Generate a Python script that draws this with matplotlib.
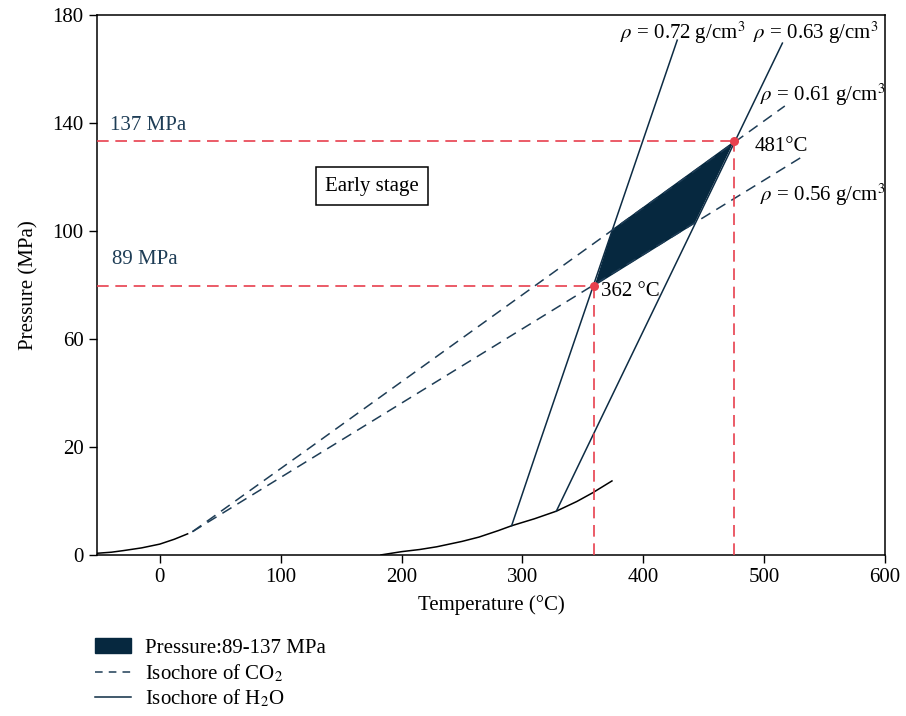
import numpy as np
import matplotlib.pyplot as plt
from matplotlib.patches import Patch
from matplotlib.lines import Line2D

plt.rcParams['font.family'] = 'serif'
plt.rcParams['font.serif'] = ['Liberation Serif', 'DejaVu Serif']
plt.rcParams['mathtext.fontset'] = 'stix'

# liquid-vapour curves
co2_T = [-52, -40, -30, -15, 0, 12, 23]
co2_P = [0.3, 0.5, 0.8, 1.3, 2.0, 2.9, 3.9]
h2o_T = [183, 200, 215, 229, 250, 264, 280, 291, 310, 328, 345, 358, 374]
h2o_P = [0.0, 0.6, 1.0, 1.5, 2.5, 3.3, 4.5, 5.4, 6.7, 8.1, 9.9, 11.5, 13.7]

# isochores (T, P) - middle point is where they cross 20 MPa
h2o_072_T = [291, 313, 428]
h2o_072_P = [5.4, 20, 170.7]
h2o_063_T = [328, 353.6, 515]
h2o_063_P = [8.1, 20, 169.6]
co2_061_T = [27, 125, 517]
co2_061_P = [4.3, 20, 146.3]
co2_056_T = [27, 141, 531]
co2_056_P = [4.3, 20, 127.4]

# trapped pressure region
fill_T = [359.5, 374.4, 475, 442.1]
fill_P = [79.6, 100.7, 133.3, 102.6]
pts_T = [359.5, 475]
pts_P = [79.6, 133.3]

yticks = [0, 20, 60, 100, 140, 180]

navy = '#0d2c44'
dnavy = '#1e3d56'
fillc = '#06283f'
red = '#e8404e'


def fwd(y):
    y = np.asarray(y, dtype=float)
    return np.where(y < 20, y / 20, 1 + (y - 20) / 40)


def inv(u):
    u = np.asarray(u, dtype=float)
    return np.where(u < 1, u * 20, 20 + (u - 1) * 40)


fig = plt.figure(figsize=(9.06, 7.16), dpi=100)
ax = fig.add_axes([0.107, 0.225, 0.870, 0.754])
ax.set_yscale('function', functions=(fwd, inv))
ax.set_xlim(-52, 600)
ax.set_ylim(0, 180)

ax.fill(fill_T, fill_P, color=fillc, lw=0, zorder=2)

ax.plot(co2_T, co2_P, color='black', lw=1.1)
ax.plot(h2o_T, h2o_P, color='black', lw=1.1)
ax.plot(h2o_072_T, h2o_072_P, color=navy, lw=1.1)
ax.plot(h2o_063_T, h2o_063_P, color=navy, lw=1.1)
ax.plot(co2_061_T, co2_061_P, color=dnavy, lw=1.1, dashes=(7, 4.5))
ax.plot(co2_056_T, co2_056_P, color=dnavy, lw=1.1, dashes=(7, 4.5))

for t, p in zip(pts_T, pts_P):
    ax.plot([-52, t], [p, p], color=red, lw=1.2, dashes=(7, 4), zorder=3)
    ax.plot([t, t], [0, p], color=red, lw=1.2, dashes=(7, 4), zorder=3)
ax.scatter(pts_T, pts_P, s=30, color=red, zorder=4)

lab = dict(transform=ax.transAxes, fontsize=15, va='center', ha='left')
ax.text(0.663, 0.967, r'$\rho$ = 0.72 g/cm$^3$', **lab)
ax.text(0.832, 0.967, r'$\rho$ = 0.63 g/cm$^3$', **lab)
ax.text(0.841, 0.852, r'$\rho$ = 0.61 g/cm$^3$', **lab)
ax.text(0.841, 0.667, r'$\rho$ = 0.56 g/cm$^3$', **lab)
ax.text(0.835, 0.756, '481°C', **lab)
ax.text(0.640, 0.487, '362 °C', **lab)
ax.text(0.0165, 0.796, '137 MPa', color=dnavy, **lab)
ax.text(0.019, 0.548, '89 MPa', color=dnavy, **lab)
ax.text(0.349, 0.683, 'Early stage', transform=ax.transAxes, fontsize=15,
        va='center', ha='center',
        bbox=dict(boxstyle='square,pad=0.45', fc='white', ec='black', lw=1.1))

ax.set_yticks(yticks)
ax.set_yticklabels([str(v) for v in yticks])
ax.set_xticks([0, 100, 200, 300, 400, 500, 600])
ax.tick_params(direction='out', length=6, width=1, labelsize=15)
ax.minorticks_off()
for s in ax.spines.values():
    s.set_linewidth(1.1)
ax.set_xlabel('Temperature (°C)', fontsize=15, labelpad=6)
ax.set_ylabel('Pressure (MPa)', fontsize=15, labelpad=10)

handles = [Patch(color=fillc),
           Line2D([], [], color=dnavy, lw=1.1, dashes=(5, 4)),
           Line2D([], [], color=navy, lw=1.1)]
labels = ['Pressure:89-137 MPa', 'Isochore of CO$_2$', 'Isochore of H$_2$O']
fig.legend(handles, labels, loc='upper left', bbox_to_anchor=(0.0955, 0.12),
           frameon=False, fontsize=15, handlelength=1.75, handletextpad=0.65,
           labelspacing=0.2, borderaxespad=0)

fig.savefig('out.png', dpi=100)
